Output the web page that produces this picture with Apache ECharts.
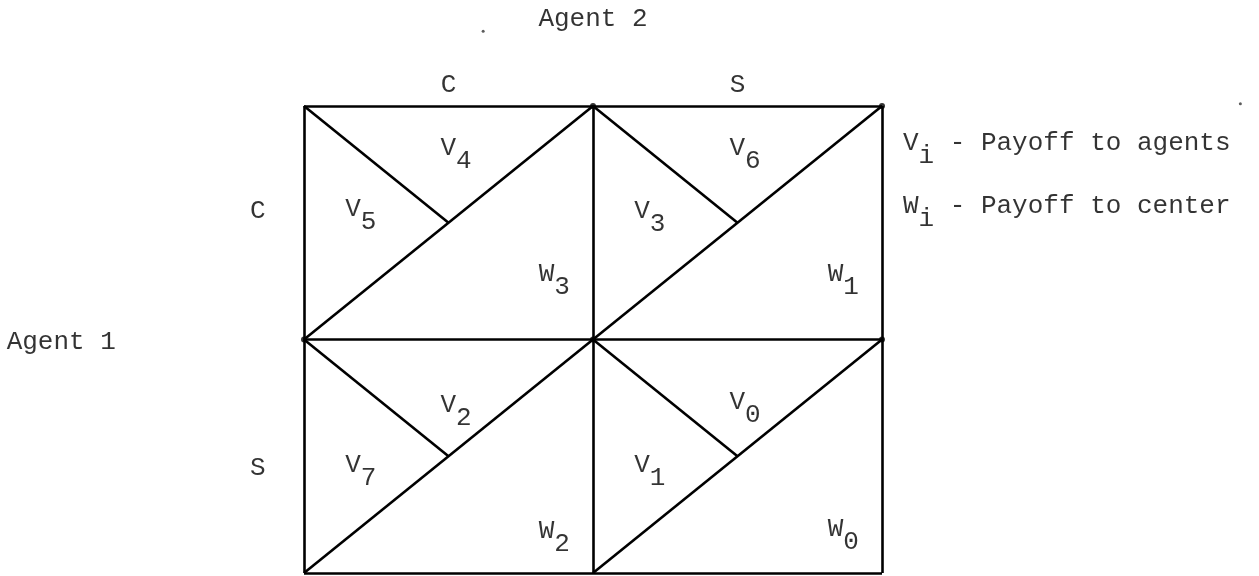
<!DOCTYPE html>
<html>
<head>
<meta charset="utf-8">
<title>Agent game payoff diagram</title>
<script src="https://cdn.jsdelivr.net/npm/echarts@6/dist/echarts.min.js"></script>
<style>
  html, body { margin: 0; padding: 0; background: #fff; }
  #chart-diagram { width: 1259px; height: 576px; }
</style>
</head>
<body>
<div id="chart-diagram"></div>
<script>
// column / row boundaries of the 2x2 game table (cell units)
const xBounds = [0, 1, 2];
const yBounds = [0, 1, 2];
// lower-left corner of each cell: (C,C) (C,S) (S,C) (S,S)
const cellCorners = [[0, 1], [1, 1], [0, 0], [1, 0]];
// junction blobs where the lines meet
const junctions = [[1, 2], [2, 2], [0, 1], [1, 1], [2, 1]];
// stray specks on the scan
const specks = [[0.62, 2.32], [3.24, 2.01]];

// payoff labels inside the cells
const payoffNames = ['V', 'V', 'W', 'V', 'V', 'W', 'V', 'V', 'W', 'V', 'V', 'W'];
const payoffSubs = ['4', '5', '3', '6', '3', '1', '2', '7', '2', '0', '1', '0'];
const payoffPos = [
  [0.50, 1.82], [0.17, 1.56], [0.84, 1.28],
  [1.50, 1.82], [1.17, 1.55], [1.84, 1.28],
  [0.50, 0.72], [0.17, 0.46], [0.84, 0.18],
  [1.50, 0.73], [1.17, 0.46], [1.84, 0.19]
];

// strategy labels
const strategyLabels = ['C', 'S', 'C', 'S'];
const strategyPos = [[0.50, 2.09], [1.50, 2.09], [-0.16, 1.55], [-0.16, 0.45]];

// player labels
const agentLabels = ['Agent 2', 'Agent 1'];
const agentPos = [[1.00, 2.37], [-0.84, 0.99]];

// key on the right
const keySyms = ['V', 'W'];
const keySubs = ['i', 'i'];
const keyTexts = ['- Payoff to agents', '- Payoff to center'];
const keyPos = [[2.10, 1.84], [2.10, 1.57]];

const FONT = '"Liberation Mono", "DejaVu Sans Mono", monospace';
const FS = 26;
const INK = '#000';

const chartDom = document.getElementById('chart-diagram');
const myChart = echarts.init(chartDom);

// build the line segments of the table
const segments = [];
xBounds.forEach(x => segments.push({ coords: [[x, yBounds[0]], [x, yBounds[2]]] }));
yBounds.forEach(y => segments.push({ coords: [[xBounds[0], y], [xBounds[2], y]] }));
cellCorners.forEach(([x0, y0]) => {
  // diagonal bottom-left -> top-right
  segments.push({ coords: [[x0, y0], [x0 + 1, y0 + 1]] });
  // top-left corner -> centre of the cell
  segments.push({ coords: [[x0, y0 + 1], [x0 + 0.5, y0 + 0.5]] });
});

const richStyles = {
  m: { fontSize: FS, fontFamily: FONT, color: INK },
  s: { fontSize: FS, fontFamily: FONT, color: INK, padding: [26, 0, 0, 0] },
  t: { fontSize: FS, fontFamily: FONT, color: INK }
};

const hidden = { color: 'rgba(0,0,0,0)' };

const option = {
  animation: false,
  backgroundColor: '#fff',
  grid: {
    left: 304,
    top: 106,
    width: 578,
    height: 467
  },
  xAxis: { type: 'value', min: 0, max: 2, show: false },
  yAxis: { type: 'value', min: 0, max: 2, show: false },
  series: [
    {
      name: 'table',
      type: 'lines',
      coordinateSystem: 'cartesian2d',
      clip: false,
      silent: true,
      lineStyle: { color: '#000', width: 2.6, opacity: 1 },
      data: segments
    },
    {
      name: 'junctions',
      type: 'scatter',
      clip: false,
      silent: true,
      symbolSize: 6,
      itemStyle: { color: '#000' },
      data: junctions
    },
    {
      name: 'specks',
      type: 'scatter',
      clip: false,
      silent: true,
      symbolSize: 3,
      itemStyle: { color: '#333' },
      data: specks
    },
    {
      name: 'payoffs',
      type: 'scatter',
      clip: false,
      silent: true,
      symbolSize: 1,
      itemStyle: hidden,
      data: payoffPos,
      label: {
        show: true,
        position: 'inside',
        align: 'left',
        offset: [-8, 0],
        fontFamily: FONT,
        fontSize: FS,
        color: INK,
        formatter: (params) => `{m|${payoffNames[params.dataIndex]}}{s|${payoffSubs[params.dataIndex]}}`,
        rich: richStyles
      }
    },
    {
      name: 'strategies',
      type: 'scatter',
      clip: false,
      silent: true,
      symbolSize: 1,
      itemStyle: hidden,
      data: strategyPos,
      label: {
        show: true,
        position: 'inside',
        fontFamily: FONT,
        fontSize: FS,
        color: INK,
        formatter: (params) => strategyLabels[params.dataIndex]
      }
    },
    {
      name: 'agents',
      type: 'scatter',
      clip: false,
      silent: true,
      symbolSize: 1,
      itemStyle: hidden,
      data: agentPos,
      label: {
        show: true,
        position: 'inside',
        fontFamily: FONT,
        fontSize: FS,
        color: INK,
        formatter: (params) => agentLabels[params.dataIndex]
      }
    },
    {
      name: 'key',
      type: 'scatter',
      clip: false,
      silent: true,
      symbolSize: 1,
      itemStyle: hidden,
      data: keyPos,
      label: {
        show: true,
        position: 'inside',
        align: 'left',
        offset: [-8, 0],
        fontFamily: FONT,
        fontSize: FS,
        color: INK,
        formatter: (params) =>
          `{m|${keySyms[params.dataIndex]}}{s|${keySubs[params.dataIndex]}}{t| ${keyTexts[params.dataIndex]}}`,
        rich: richStyles
      }
    }
  ]
};

option && myChart.setOption(option);
</script>
</body>
</html>
